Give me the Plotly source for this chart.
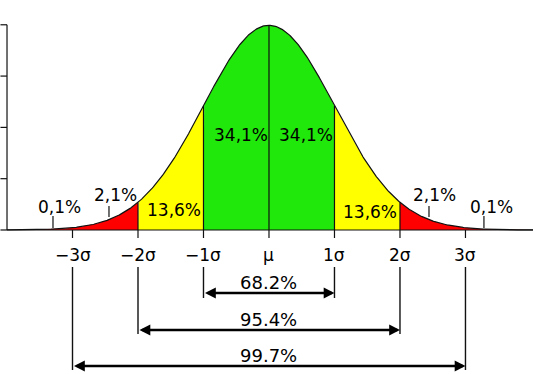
import numpy as np
import plotly.graph_objects as go

# ---- data ----
sigma_pos = [-3, -2, -1, 0, 1, 2, 3]
sigma_labels = ["\u22123\u03c3", "\u22122\u03c3", "\u22121\u03c3", "\u03bc", "1\u03c3", "2\u03c3", "3\u03c3"]
band_edges = [-4.0, -2.0, -1.0, 0.0, 1.0, 2.0, 4.0]
band_colors = ["#ff0000", "#ffff00", "#20e80b", "#20e80b", "#ffff00", "#ff0000"]
pct_labels = ["0,1%", "2,1%", "13,6%", "34,1%", "34,1%", "13,6%", "2,1%", "0,1%"]
pct_x = [-3.206, -2.336, -1.443, -0.43, 0.56, 1.54, 2.534, 3.39]
pct_y = [0.045, 0.068, 0.039, 0.185, 0.185, 0.036, 0.068, 0.045]
pointer_x = [-3.298, -2.443, 2.443, 3.282]
pointer_y0 = [0.004, 0.0253, 0.0253, 0.004]
pointer_y1 = [0.0273, 0.0468, 0.0468, 0.0273]
range_k = [1, 2, 3]
range_labels = ["68.2%", "95.4%", "99.7%"]
range_arrow_y = [-0.1228, -0.1949, -0.2651]
range_label_y = [-0.1033, -0.1754, -0.2437]
range_line_bottom = [-0.1326, -0.2027, -0.2729]
yticks = [0.0, 0.1, 0.2, 0.3, 0.4]


def pdf(z):
    return np.exp(-0.5 * z ** 2) / np.sqrt(2 * np.pi)


fig = go.Figure()
FONT = "DejaVu Sans"

# filled bands
for a, b, c in zip(band_edges[:-1], band_edges[1:], band_colors):
    xs = np.linspace(a, b, 200)
    px = np.concatenate([[a], xs, [b]])
    py = np.concatenate([[0], pdf(xs), [0]])
    fig.add_trace(go.Scatter(x=px, y=py, fill="toself", fillcolor=c, mode="lines",
                             line=dict(width=0), hoverinfo="skip", showlegend=False))

# curve
xc = np.linspace(-4.0, 4.1, 600)
fig.add_trace(go.Scatter(x=xc, y=pdf(xc), mode="lines", line=dict(color="#111", width=1.2),
                         hoverinfo="skip", showlegend=False))

shapes = []
LINE = dict(color="#111", width=1.2)
LINE2 = dict(color="#111", width=1.4)
# baseline
shapes.append(dict(type="line", xref="x", yref="y", x0=-4.0, x1=4.1, y0=0, y1=0, line=LINE))
# y axis
shapes.append(dict(type="line", xref="x", yref="y", x0=-4.0, x1=-4.0, y0=0, y1=0.4, line=LINE))
for t in yticks:
    shapes.append(dict(type="line", xref="x", yref="y", x0=-4.1, x1=-4.0, y0=t, y1=t, line=LINE))
# vertical dividers inside the curve
for s in [-2, -1, 0, 1, 2]:
    shapes.append(dict(type="line", xref="x", yref="y", x0=s, x1=s, y0=0, y1=float(pdf(s)), line=LINE))
# ticks below baseline
for s in sigma_pos:
    shapes.append(dict(type="line", xref="x", yref="y", x0=s, x1=s, y0=0, y1=-0.0156, line=LINE))
# pointers
for px_, a, b in zip(pointer_x, pointer_y0, pointer_y1):
    shapes.append(dict(type="line", xref="x", yref="y", x0=px_, x1=px_, y0=a, y1=b, line=LINE))
# range bracket lines
for k, yb in zip(range_k, range_line_bottom):
    for sgn in (-1, 1):
        shapes.append(dict(type="line", xref="x", yref="y", x0=sgn * k, x1=sgn * k,
                           y0=-0.0721, y1=yb, line=LINE2))

annotations = []
for s, lab in zip(sigma_pos, sigma_labels):
    annotations.append(dict(x=s, y=-0.0487, xref="x", yref="y", text=lab, showarrow=False,
                            font=dict(family=FONT, size=17, color="black")))
for x, y, lab in zip(pct_x, pct_y, pct_labels):
    annotations.append(dict(x=x, y=y, xref="x", yref="y", text=lab, showarrow=False,
                            font=dict(family=FONT, size=17, color="black")))
for k, ya, yl, lab in zip(range_k, range_arrow_y, range_label_y, range_labels):
    annotations.append(dict(x=k, y=ya, ax=-k, ay=ya, xref="x", yref="y", axref="x", ayref="y",
                            text="", showarrow=True, arrowhead=2, startarrowhead=2,
                            arrowside="end+start", arrowwidth=2.4, arrowsize=0.9, startarrowsize=0.9,
                            arrowcolor="black"))
    annotations.append(dict(x=0, y=yl, xref="x", yref="y", text=lab, showarrow=False,
                            font=dict(family=FONT, size=18, color="black")))

fig.update_layout(
    width=533, height=374,
    margin=dict(l=0, r=0, t=0, b=0),
    paper_bgcolor="white", plot_bgcolor="white",
    xaxis=dict(range=[-4.107, 4.031], visible=False, fixedrange=True),
    yaxis=dict(range=[-0.2807, 0.4483], visible=False, fixedrange=True),
    shapes=shapes, annotations=annotations, showlegend=False,
)
fig.write_html("out.html", config={"displayModeBar": False},
               post_script="document.body.style.margin='0';document.body.style.overflow='hidden';")
